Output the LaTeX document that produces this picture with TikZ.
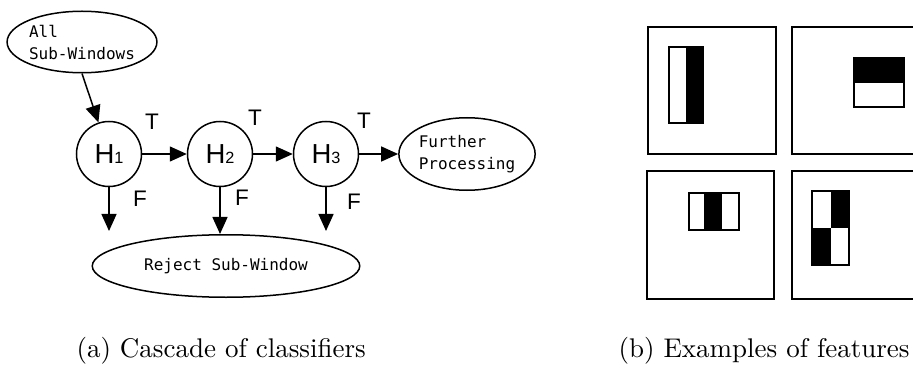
\documentclass[tikz,border=0pt]{standalone}
\usepackage{fontspec}
\usetikzlibrary{arrows.meta,shapes.geometric}
\newfontfamily\gothic{DejaVu Sans Mono}
\newfontfamily\arial{Liberation Sans}
\newcommand\hlab[1]{H{\fontsize{6.5}{6.5}\selectfont#1}}

\begin{document}
\begin{tikzpicture}[x=0.4pt,y=-0.4pt,
    oval/.style={draw,ellipse,line width=0.6pt,inner sep=0pt,
                 font=\gothic\fontsize{6.4}{8.8}\selectfont},
    stage/.style={draw,circle,line width=0.6pt,minimum size=26pt,inner sep=0pt,
                  font=\arial\fontsize{11}{11}\selectfont},
    flow/.style={line width=0.6pt,-{Triangle[length=6.8pt,width=6pt]}},
    tf/.style={font=\arial\fontsize{9}{9}\selectfont,inner sep=0pt},
    win/.style={line width=0.8pt},
    feat/.style={line width=0.6pt},
    subcap/.style={font=\fontsize{10.8}{13}\selectfont,inner sep=0pt,anchor=base west}]
    \clip (0,0) rectangle (913,366);

    % Cascade
    \node[oval,minimum width=58pt,minimum height=24.6pt,align=left] (all) at (82,42) {All\\Sub-Windows};
    \node[stage] (h1) at (109,154) {\hlab1};
    \node[stage] (h2) at (220,154) {\hlab2};
    \node[stage] (h3) at (326,154) {\hlab3};
    \node[oval,minimum width=51.6pt,minimum height=29pt,align=left] (further) at (467,154) {Further\\Processing};
    \node[oval,minimum width=107pt,minimum height=25pt] (reject) at (226,266) {Reject Sub-Window};

    \draw[flow] (all.south) -- (h1);
    \draw[flow] (h1) -- (h2);
    \draw[flow] (h2) -- (h3);
    \draw[flow] (h3) -- (further);

    % rejections
    \coordinate (drop1) at (109,231);
    \coordinate (drop3) at (326,231);
    \draw[flow] (h1) -- (drop1);
    \draw[flow] (h2) -- (h2 |- reject.north);
    \draw[flow] (h3) -- (drop3);

    \foreach \x/\y [count=\i] in {152/122,255/118,364/121}
        \node[tf] (lt\i) at (\x,\y) {T};
    \foreach \x/\y [count=\i] in {140/199,242/198,354/202}
        \node[tf] (lf\i) at (\x,\y) {F};

    % Feature windows
    \draw[win] (648,27) rectangle (776,154);
    \draw[win] (792,27) rectangle (920,154);
    \draw[win] (647,171) rectangle (774,299);
    \draw[win] (792,171) rectangle (920,299);

    % two rectangles, side by side
    \fill (686,47) rectangle (703,123);
    \draw[feat] (669,47) rectangle (703,123);
    % two rectangles, stacked
    \fill (854,58) rectangle (904,83);
    \draw[feat] (854,58) rectangle (904,107);
    % three rectangles
    \fill (704,193) rectangle (722,230);
    \draw[feat] (689,193) rectangle (739,230);
    % four rectangles
    \fill (831,191) rectangle (849,228);
    \fill (812,228) rectangle (831,265);
    \draw[feat] (812,191) rectangle (849,265);

    \node[subcap] (capa) at (76,357) {(a) Cascade of classifiers};
    \node[subcap] (capb) at (618,357) {(b) Examples of features};
\end{tikzpicture}
\end{document}
